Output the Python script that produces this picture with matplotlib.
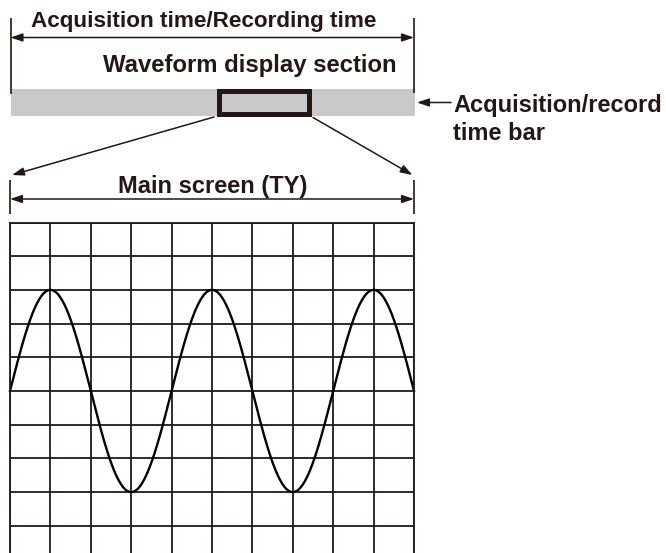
import numpy as np
import matplotlib
matplotlib.use("Agg")
import matplotlib.pyplot as plt
from matplotlib.patches import Rectangle

# ── Data ──────────────────────────────────────────────────────────────────────
grid_cols = 10            # horizontal divisions on main screen
grid_rows = 10            # vertical divisions on main screen
wave_period_div = 4       # one sine period spans 4 divisions
wave_amplitude_div = 3    # peak height in divisions
wave_centre_div = 0       # centre line (grid runs -5 .. +5)

labels = {
    "total": "Acquisition time/Recording time",
    "section": "Waveform display section",
    "bar": ["Acquisition/record", "time bar"],
    "main": "Main screen (TY)",
}

# ── Palette ───────────────────────────────────────────────────────────────────
INK = "#231815"
BAR_C = "#c9c9c9"
FONT = "Liberation Sans"

W, H = 666, 553
fig = plt.figure(figsize=(W / 100, H / 100), dpi=100)
fig.patch.set_facecolor("white")

# overlay axes in pixel coordinates for the annotations
ax = fig.add_axes([0, 0, 1, 1])
ax.set_xlim(0, W)
ax.set_ylim(H, 0)
ax.axis("off")


def vline(x, y0, y1, lw=1.2):
    ax.plot([x, x], [y0, y1], color=INK, lw=lw, solid_capstyle="butt")


def arrow(x0, y0, x1, y1, style="-|>"):
    ax.annotate("", xy=(x1, y1), xytext=(x0, y0),
                arrowprops=dict(arrowstyle=f"{style},head_length=0.65,head_width=0.22",
                                color=INK, lw=1.1, mutation_scale=11,
                                shrinkA=0, shrinkB=0))


def label(x, y, s, ha="center", fs=17.0):
    ax.text(x, y, s, ha=ha, va="baseline", fontsize=fs, fontweight="bold",
            color=INK, family=FONT)


# ── Top: acquisition time ─────────────────────────────────────────────────────
vline(10.5, 18, 94)
vline(414, 18, 93)
arrow(10.5, 37.5, 414, 37.5, style="<|-|>")
label(204, 27.5, labels["total"], fs=16.2)
label(250, 72.3, labels["section"], fs=17.2)

# acquisition/record time bar
ax.add_patch(Rectangle((11, 88.5), 404, 27, facecolor=BAR_C, edgecolor="none"))
ax.add_patch(Rectangle((218.5, 90.5), 90.5, 23, facecolor=BAR_C,
                       edgecolor=INK, lw=3.6))

arrow(451, 102.5, 417, 102.5)
for i, line in enumerate(labels["bar"]):
    label(453, 111.7 + i * 28.5, line, ha="left")

# zoom lines to main screen
arrow(214, 117, 12, 175)
arrow(313, 117.5, 412.5, 175)

# ── Main screen dimension ─────────────────────────────────────────────────────
vline(10, 180, 214)
vline(414, 180, 214)
label(213, 193, labels["main"])
arrow(10, 199, 414, 199, style="<|-|>")

# ── Main screen grid + waveform ───────────────────────────────────────────────
top_px, row_px = 222.5, 33.7
bottom_px = top_px + grid_rows * row_px
gax = fig.add_axes([10 / W, (H - bottom_px) / H, 404 / W, grid_rows * row_px / H])
gax.set_xlim(0, grid_cols)
gax.set_ylim(-grid_rows / 2, grid_rows / 2)
gax.set_xticks(np.arange(0, grid_cols + 1))
gax.set_yticks(np.arange(-grid_rows / 2, grid_rows / 2 + 1))
gax.tick_params(length=0, labelbottom=False, labelleft=False)
gax.grid(True, color=INK, lw=1.3)
for sp in gax.spines.values():
    sp.set_color(INK)
    sp.set_linewidth(1.3)
gax.set_facecolor("white")

t = np.linspace(0, grid_cols, 600)
y = wave_centre_div + wave_amplitude_div * np.sin(2 * np.pi * t / wave_period_div)
gax.plot(t, y, color="black", lw=1.7, clip_on=False)

fig.savefig("out.png", dpi=100, facecolor="white")
